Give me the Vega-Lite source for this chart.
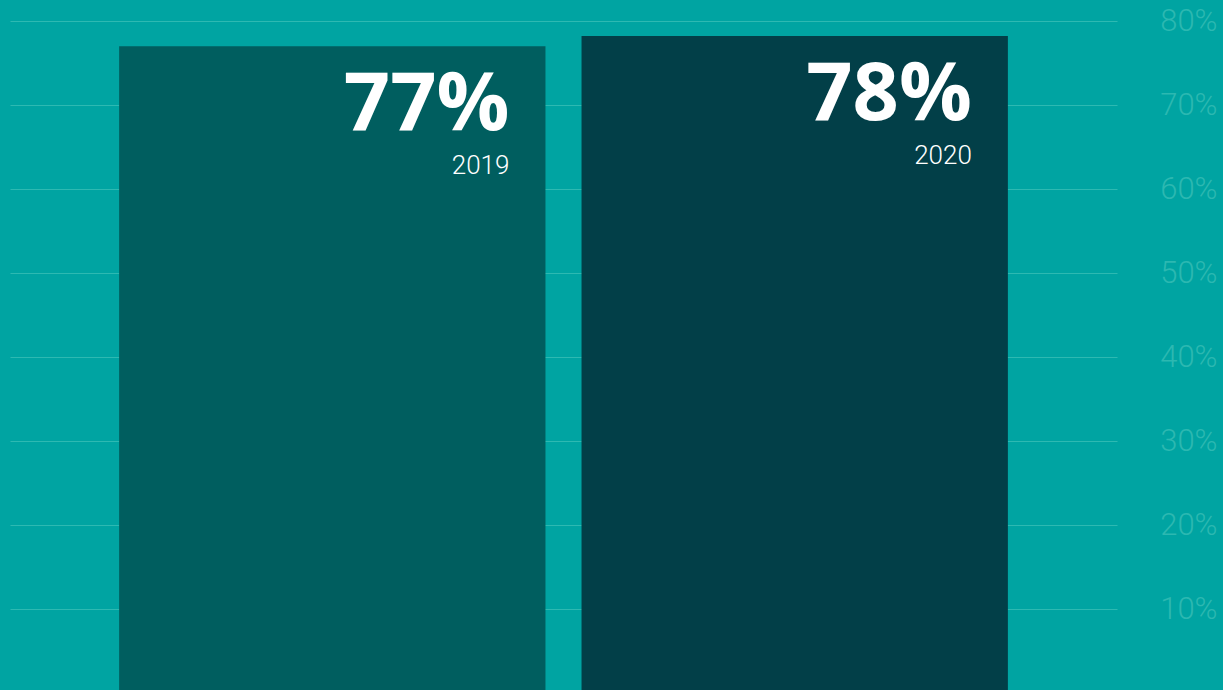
{
  "$schema": "https://vega.github.io/schema/vega-lite/v6.json",
  "autosize": {"type": "none"},
  "padding": {"left": 10, "top": 21, "right": 106, "bottom": 0},
  "width": 1107,
  "height": 672,
  "background": "#00A4A2",
  "config": {"view": {"stroke": null}},
  "data": {"values": [
    {"year": "2019", "value": 77.0, "label": "77%"},
    {"year": "2020", "value": 78.2, "label": "78%"}
  ]},
  "encoding": {
    "x": {"field": "year", "type": "nominal", "axis": null,
      "scale": {"paddingInner": 0.078, "paddingOuter": 0.236}},
    "y": {"field": "value", "type": "quantitative",
      "scale": {"domain": [0, 80], "nice": false},
      "axis": {"orient": "right", "title": null, "domain": false, "ticks": false,
        "values": [10, 20, 30, 40, 50, 60, 70, 80],
        "labelExpr": "datum.value + '%'",
        "labelAlign": "right", "labelPadding": 100, "labelBaseline": "middle",
        "labelFont": "Roboto", "labelFontWeight": 300, "labelFontSize": 31,
        "labelColor": "#2CB8B1", "gridColor": "#2DB9B2", "gridWidth": 1.2, "gridOpacity": 1}}
  },
  "layer": [
    {"mark": {"type": "bar"},
     "encoding": {"color": {"field": "year", "type": "nominal", "legend": null,
       "scale": {"domain": ["2019", "2020"], "range": ["#005E5F", "#023F48"]}}}},
    {"mark": {"type": "text", "align": "right", "baseline": "alphabetic", "dx": -36, "dy": 84,
       "font": "Open Sans", "fontWeight": 700, "fontSize": 81, "color": "white"},
     "encoding": {"x": {"field": "year", "type": "nominal", "bandPosition": 1},
       "text": {"field": "label"}}},
    {"mark": {"type": "text", "align": "right", "baseline": "alphabetic", "dx": -36, "dy": 128,
       "font": "Roboto", "fontWeight": 300, "fontSize": 26, "color": "white"},
     "encoding": {"x": {"field": "year", "type": "nominal", "bandPosition": 1},
       "text": {"field": "year"}}}
  ]
}
